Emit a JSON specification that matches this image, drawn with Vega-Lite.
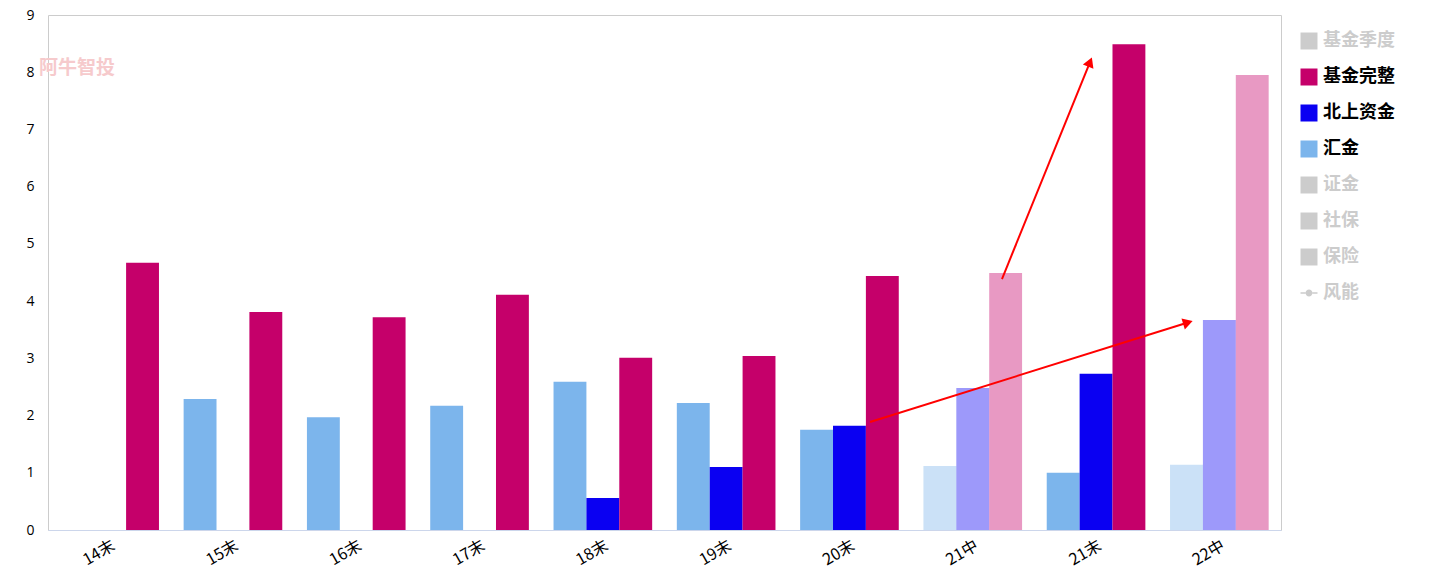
{
  "$schema": "https://vega.github.io/schema/vega-lite/v6.json",
  "width": 1233,
  "height": 515,
  "autosize": "none",
  "padding": {"left": 48, "top": 15, "right": 152, "bottom": 44},
  "background": "white",
  "config": {
    "font": "Noto Sans CJK SC",
    "view": {"stroke": "#cccccc"}
  },
  "datasets": {
    "bars": [
      {"period": "14末", "series": "基金完整", "value": 4.67},
      {"period": "15末", "series": "汇金", "value": 2.29},
      {"period": "15末", "series": "基金完整", "value": 3.81},
      {"period": "16末", "series": "汇金", "value": 1.97},
      {"period": "16末", "series": "基金完整", "value": 3.72},
      {"period": "17末", "series": "汇金", "value": 2.17},
      {"period": "17末", "series": "基金完整", "value": 4.11},
      {"period": "18末", "series": "汇金", "value": 2.59},
      {"period": "18末", "series": "北上资金", "value": 0.56},
      {"period": "18末", "series": "基金完整", "value": 3.01},
      {"period": "19末", "series": "汇金", "value": 2.22},
      {"period": "19末", "series": "北上资金", "value": 1.10},
      {"period": "19末", "series": "基金完整", "value": 3.04},
      {"period": "20末", "series": "汇金", "value": 1.75},
      {"period": "20末", "series": "北上资金", "value": 1.82},
      {"period": "20末", "series": "基金完整", "value": 4.44},
      {"period": "21中", "series": "汇金", "value": 1.12},
      {"period": "21中", "series": "北上资金", "value": 2.48},
      {"period": "21中", "series": "基金完整", "value": 4.49},
      {"period": "21末", "series": "汇金", "value": 1.00},
      {"period": "21末", "series": "北上资金", "value": 2.73},
      {"period": "21末", "series": "基金完整", "value": 8.49},
      {"period": "22中", "series": "汇金", "value": 1.14},
      {"period": "22中", "series": "北上资金", "value": 3.67},
      {"period": "22中", "series": "基金完整", "value": 7.95}
    ],
    "arrows": [
      {"xs": 7.737, "ys": 4.386, "xe": 8.446, "ye": 8.152},
      {"xs": 6.667, "ys": 1.887, "xe": 9.232, "ye": 3.618}
    ],
    "head1": [{"x": 8.446, "y": 8.152}],
    "head2": [{"x": 9.232, "y": 3.618}],
    "mark": [{"x": 0.235, "y": 8.07, "label": "阿牛智投"}]
  },
  "layer": [
    {
      "data": {"name": "bars"},
      "mark": {"type": "bar"},
      "encoding": {
        "x": {
          "field": "period", "type": "nominal",
          "sort": ["14末","15末","16末","17末","18末","19末","20末","21中","21末","22中"],
          "scale": {"paddingInner": 0.2, "paddingOuter": 0.1},
          "axis": {"title": null, "labelAngle": -30, "labelFontSize": 16, "ticks": false, "domainColor": "#ccd6eb", "labelPadding": 7, "labelColor": "#000000"}
        },
        "xOffset": {"field": "series", "type": "nominal", "scale": {"domain": ["汇金","北上资金","基金完整"], "paddingInner": 0, "paddingOuter": 0}},
        "y": {
          "field": "value", "type": "quantitative", "scale": {"domain": [0, 9], "nice": false},
          "axis": {"title": null, "grid": false, "ticks": false, "domain": false, "labelFontSize": 14, "labelColor": "#000000", "labelPadding": 14, "values": [0,1,2,3,4,5,6,7,8,9], "format": "d", "labelFont": "Open Sans"}
        },
        "color": {
          "field": "series", "type": "nominal",
          "scale": {
            "domain": ["基金季度","基金完整","北上资金","汇金","证金","社保","保险","风能"],
            "range": ["#cccccc","#c5006a","#0a00f2","#7cb5ec","#cccccc","#cccccc","#cccccc","#cccccc"]
          },
          "legend": {
            "title": null,
            "orient": "none",
            "legendX": 1252,
            "legendY": 17,
            "padding": 0,
            "symbolType": {"expr": "datum.label === '风能' ? 'M-1,-0.1L-0.4,-0.1L-0.4,0.1L-1,0.1Z M0.4,-0.1L1,-0.1L1,0.1L0.4,0.1Z M-0.4,0A0.4,0.4 0 1,0 0.4,0A0.4,0.4 0 1,0 -0.4,0Z' : 'square'"},
            "symbolSize": 289,
            "symbolStrokeWidth": 0,
            "symbolOpacity": 1,
            "labelFontSize": 18,
            "labelFontWeight": "bold",
            "labelOffset": 5,
            "labelLimit": 0,
            "rowPadding": 18,
            "labelColor": {"expr": "indexof(['基金完整','北上资金','汇金'], datum.label) >= 0 ? '#000000' : '#cccccc'"}
          }
        },
        "opacity": {"condition": {"test": "indexof(datum.period, '中') >= 0", "value": 0.4}, "value": 1}
      }
    },
    {
      "data": {"name": "mark"},
      "mark": {"type": "text", "color": "#f6cacc", "fontSize": 19, "fontWeight": "bold", "align": "center", "baseline": "middle"},
      "encoding": {
        "x": {"field": "x", "type": "quantitative", "scale": {"domain": [0, 10], "nice": false, "zero": false}, "axis": null},
        "y": {"field": "y", "type": "quantitative", "scale": {"domain": [0, 9], "nice": false}, "title": null},
        "text": {"field": "label"}
      }
    },
    {
      "data": {"name": "arrows"},
      "mark": {"type": "rule", "color": "#ff0000", "strokeWidth": 2},
      "encoding": {
        "x": {"field": "xs", "type": "quantitative", "scale": {"domain": [0, 10], "nice": false, "zero": false}, "axis": null},
        "x2": {"field": "xe"},
        "y": {"field": "ys", "type": "quantitative", "scale": {"domain": [0, 9], "nice": false}, "title": null},
        "y2": {"field": "ye"}
      }
    },
    {
      "data": {"name": "head1"},
      "mark": {"type": "point", "shape": "triangle", "filled": true, "color": "#ff0000", "opacity": 1, "size": 130, "angle": 22},
      "encoding": {
        "x": {"field": "x", "type": "quantitative", "scale": {"domain": [0, 10], "nice": false, "zero": false}, "axis": null},
        "y": {"field": "y", "type": "quantitative", "scale": {"domain": [0, 9], "nice": false}, "title": null}
      }
    },
    {
      "data": {"name": "head2"},
      "mark": {"type": "point", "shape": "triangle", "filled": true, "color": "#ff0000", "opacity": 1, "size": 130, "angle": 73},
      "encoding": {
        "x": {"field": "x", "type": "quantitative", "scale": {"domain": [0, 10], "nice": false, "zero": false}, "axis": null},
        "y": {"field": "y", "type": "quantitative", "scale": {"domain": [0, 9], "nice": false}, "title": null}
      }
    }
  ],
  "resolve": {"scale": {"x": "independent"}}
}
